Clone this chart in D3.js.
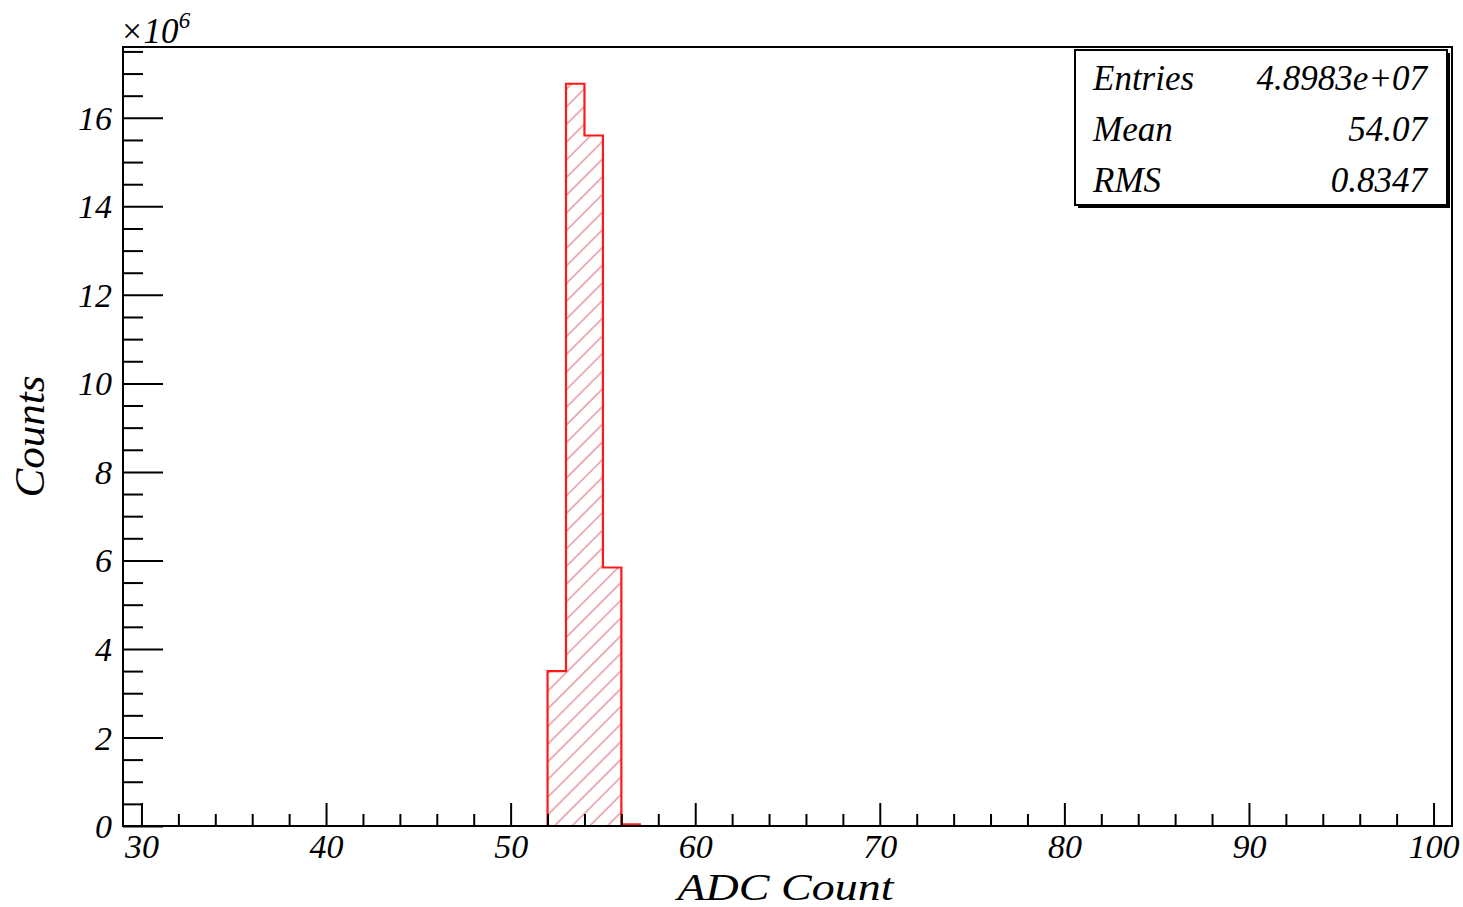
<!DOCTYPE html>
<html>
<head>
<meta charset="utf-8">
<script src="https://cdn.jsdelivr.net/npm/d3@7"></script>
<style>
  html, body { margin: 0; padding: 0; background: #fff; }
  svg { display: block; }
  text { font-family: "Liberation Serif", "Times New Roman", serif; font-style: italic; fill: #000; }
</style>
</head>
<body>
<svg id="chart" width="1463" height="907"></svg>
<script>
// ---- data ----
const binLow = [52, 53, 54, 55, 56];           // lower edge of each 1-ADC bin
const binCounts = [3.50e6, 16.77e6, 15.60e6, 5.84e6, 0.04e6];
const xMajorTicks = [30, 40, 50, 60, 70, 80, 90, 100];
const yMajorTicks = [0, 2e6, 4e6, 6e6, 8e6, 10e6, 12e6, 14e6, 16e6];
const statLabels = ["Entries", "Mean", "RMS"];
const statValues = ["4.8983e+07", "54.07", "0.8347"];
const xDomain = [29, 101];
const yDomain = [0, 17.6e6];

const svg = d3.select("#chart");
const M = { left: 123, right: 1452, top: 47, bottom: 826 };

const x = d3.scaleLinear().domain(xDomain).range([M.left, M.right]);
const y = d3.scaleLinear().domain(yDomain).range([M.bottom, M.top]);

// hatch pattern
const defs = svg.append("defs");
const pat = defs.append("pattern")
  .attr("id", "hatch")
  .attr("patternUnits", "userSpaceOnUse")
  .attr("width", 14).attr("height", 12.5)
  .attr("patternTransform", "rotate(-45)");
pat.append("line")
  .attr("x1", 0).attr("y1", 1).attr("x2", 14).attr("y2", 1)
  .attr("stroke", "#d9606e").attr("stroke-width", 1);

// histogram
const bins = binLow.map((lo, i) => ({ x0: lo, x1: lo + 1, v: binCounts[i] }));
const pts = [[x(bins[0].x0), y(0)]];
bins.forEach(b => { pts.push([x(b.x0), y(b.v)]); pts.push([x(b.x1), y(b.v)]); });
pts.push([x(bins[bins.length - 1].x1), y(0)]);
const line = d3.line();
svg.append("path")
  .attr("d", line(pts) + "Z")
  .attr("fill", "url(#hatch)")
  .attr("stroke", "none");
svg.append("path")
  .attr("d", line(pts))
  .attr("fill", "none")
  .attr("stroke", "#ff1a1a")
  .attr("stroke-width", 2.2);

// minor ticks
const xMinor = d3.range(30, 101, 2).filter(v => !xMajorTicks.includes(v));
const yMinor = d3.range(0, 17.6e6, 0.5e6).filter(v => !yMajorTicks.includes(v));

const xAxisMinor = svg.append("g").attr("transform", `translate(0,${M.bottom})`)
  .call(d3.axisBottom(x).tickValues(xMinor).tickSizeInner(-12).tickSizeOuter(0).tickFormat(""));
const yAxisMinor = svg.append("g").attr("transform", `translate(${M.left},0)`)
  .call(d3.axisLeft(y).tickValues(yMinor).tickSizeInner(-20).tickSizeOuter(0).tickFormat(""));

const xAxis = svg.append("g").attr("transform", `translate(0,${M.bottom})`)
  .call(d3.axisBottom(x).tickValues(xMajorTicks).tickSizeInner(-23).tickSizeOuter(0).tickPadding(8)
    .tickFormat(d3.format("d")));
const yAxis = svg.append("g").attr("transform", `translate(${M.left},0)`)
  .call(d3.axisLeft(y).tickValues(yMajorTicks).tickSizeInner(-40).tickSizeOuter(0).tickPadding(11)
    .tickFormat(d => d / 1e6));

[xAxisMinor, yAxisMinor, xAxis, yAxis].forEach(g => {
  g.select(".domain").remove();
  g.selectAll(".tick line").attr("stroke", "#000").attr("stroke-width", 2);
  g.selectAll(".tick text")
    .attr("font-family", "Liberation Serif, serif")
    .attr("font-style", "italic")
    .attr("font-size", 34)
    .attr("fill", "#000");
});
yAxis.selectAll(".tick text").attr("dy", "0.34em");

// frame
svg.append("rect")
  .attr("x", M.left).attr("y", M.top)
  .attr("width", M.right - M.left).attr("height", M.bottom - M.top)
  .attr("fill", "none").attr("stroke", "#000").attr("stroke-width", 2);

// exponent
const ex = svg.append("text").attr("x", 120).attr("y", 43).attr("font-size", 35);
ex.append("tspan").text("×10");
ex.append("tspan").attr("dy", -15).attr("font-size", 23).text("6");

// axis titles
svg.append("text")
  .attr("x", (M.left + M.right) / 2 - 2).attr("y", 900)
  .attr("text-anchor", "middle")
  .attr("font-size", 38)
  .attr("textLength", 216).attr("lengthAdjust", "spacingAndGlyphs")
  .text("ADC Count");
svg.append("text")
  .attr("transform", `translate(44,${(M.top + M.bottom) / 2}) rotate(-90)`)
  .attr("text-anchor", "middle")
  .attr("font-size", 42)
  .attr("textLength", 122).attr("lengthAdjust", "spacingAndGlyphs")
  .text("Counts");

// stats box
const sb = { x0: 1075, y0: 50, x1: 1447, y1: 205 };
svg.append("rect")
  .attr("x", sb.x0 + 3).attr("y", sb.y0 + 3)
  .attr("width", sb.x1 - sb.x0).attr("height", sb.y1 - sb.y0)
  .attr("fill", "#000");
svg.append("rect")
  .attr("x", sb.x0).attr("y", sb.y0)
  .attr("width", sb.x1 - sb.x0).attr("height", sb.y1 - sb.y0)
  .attr("fill", "#fff").attr("stroke", "#000").attr("stroke-width", 2);
const rowY = d3.scalePoint().domain(statLabels).range([90, 192]);
statLabels.forEach((lab, i) => {
  svg.append("text").attr("x", 1093).attr("y", rowY(lab)).attr("font-size", 35).text(lab);
  svg.append("text").attr("x", 1427).attr("y", rowY(lab)).attr("font-size", 35)
    .attr("text-anchor", "end").text(statValues[i]);
});
</script>
</body>
</html>
